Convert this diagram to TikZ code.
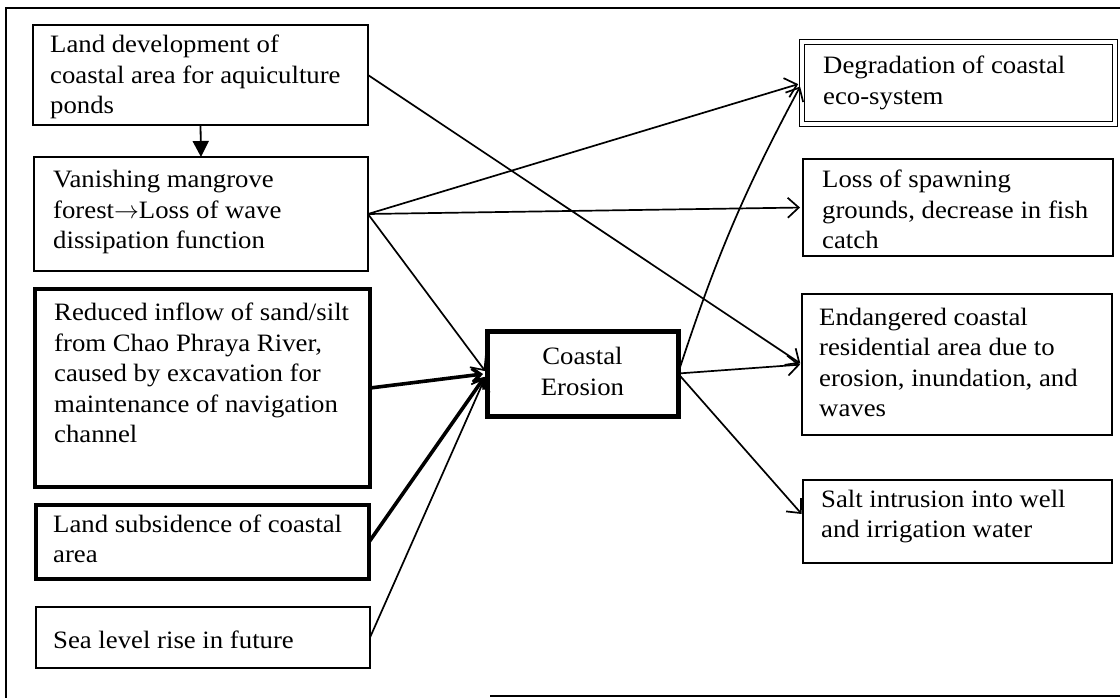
\documentclass[tikz,border=0pt]{standalone}
\usepackage{fontspec}
\setmainfont{Liberation Serif}[FakeStretch=1.07]
\usetikzlibrary{arrows.meta,calc}
\begin{document}
\begin{tikzpicture}[x=1pt,y=-1pt,
  box/.style={draw, line width=1.8pt, inner sep=0pt, outer sep=0pt},
  thickbox/.style={box, line width=3.8pt},
  dblbox/.style={draw, line width=1.5pt, double, double distance=3.6pt, inner sep=0pt, outer sep=0pt},
  txt/.style={anchor=west, align=left, inner sep=0pt, font=\fontsize{25}{30.5}\selectfont},
  arr/.style={line width=1.7pt, -{Straight Barb[length=11pt,width=20pt]}},
  tarr/.style={line width=3.6pt, -{Straight Barb[length=8pt,width=14pt]}},
  downarr/.style={line width=1.8pt, -{Triangle[length=16pt,width=16pt]}}
]
\useasboundingbox (0,0) rectangle (1120,698);
% outer frame
\draw[line width=1.8pt] (6,698) -- (6,8) -- (1120,8);
\draw[line width=1.8pt] (490,696) -- (1120,696);

% left boxes
\node[box, minimum width=335pt, minimum height=100pt] (A) at (200.5,75) {};
\node[txt] (At) at ($(A.west)+(17,2)$) {Land development of\\coastal area for aquiculture\\ponds};

\node[box, minimum width=334pt, minimum height=114pt] (B) at (201,214) {};
\node[txt] (Bt) at ($(B.west)+(19,-2)$) {Vanishing mangrove\\forest$\rightarrow$Loss of wave\\dissipation function};

\node[thickbox, minimum width=335pt, minimum height=198pt] (C) at (202.5,388) {};
\node[txt] (Ct) at ($(C.west)+(19,-15)$) {Reduced inflow of sand/silt\\from Chao Phraya River,\\caused by excavation for\\maintenance of navigation\\channel};

\node[thickbox, minimum width=333pt, minimum height=74pt] (D) at (202.5,542) {};
\node[txt] (Dt) at ($(D.west)+(17,-3)$) {Land subsidence of coastal\\area};

\node[box, minimum width=334pt, minimum height=61pt] (E) at (203,637.5) {};
\node[txt] (Et) at ($(E.west)+(17,2)$) {Sea level rise in future};

% centre box
\node[box, line width=5pt, minimum width=191pt, minimum height=85pt] (CE) at (582.5,373.5) {};
\node[align=center, inner sep=0pt, font=\fontsize{25}{30.5}\selectfont] (CEt) at ($(CE.center)+(0,-2)$) {Coastal\\Erosion};

% right boxes
\node[dblbox, minimum width=313pt, minimum height=82pt] (R1) at (958.5,83) {};
\node[txt] (R1t) at ($(R1.west)+(21,0)$) {Degradation of coastal\\eco-system};

\node[box, minimum width=310pt, minimum height=97pt] (R2) at (958,207.5) {};
\node[txt] (R2t) at ($(R2.west)+(19,2)$) {Loss of spawning\\grounds, decrease in fish\\catch};

\node[box, minimum width=310pt, minimum height=141pt] (R3) at (957,364.5) {};
\node[txt] (R3t) at ($(R3.west)+(17,-2)$) {Endangered coastal\\residential area due to\\erosion, inundation, and\\waves};

\node[box, minimum width=309pt, minimum height=83pt] (R4) at (957.5,521.5) {};
\node[txt] (R4t) at ($(R4.west)+(18,-5)$) {Salt intrusion into well\\and irrigation water};

% connectors
\draw[downarr] (A.south) -- (B.north);
\draw[arr, shorten >=2pt] (A.east) -- (R3.west);
\draw[arr, shorten >=4pt] (B.east) -- (R1.west);
\draw[arr, shorten >=3pt] (B.east) -- (R2.west);
\draw[arr, shorten >=3pt] (B.east) -- (CE.west);
\draw[tarr, shorten >=4pt] (C.east) -- (CE.west);
\draw[tarr, shorten >=4pt] (D.east) -- (CE.west);
\draw[arr, shorten >=4pt] (E.east) -- (CE.west);
\draw[arr, shorten >=4pt] (CE.east) to[bend left=5] (R1.west);
\draw[arr, shorten >=2pt] (CE.east) -- (R3.west);
\draw[arr, shorten >=2pt] (CE.east) -- ($(R4.west)+(0,-6)$);
\end{tikzpicture}
\end{document}
